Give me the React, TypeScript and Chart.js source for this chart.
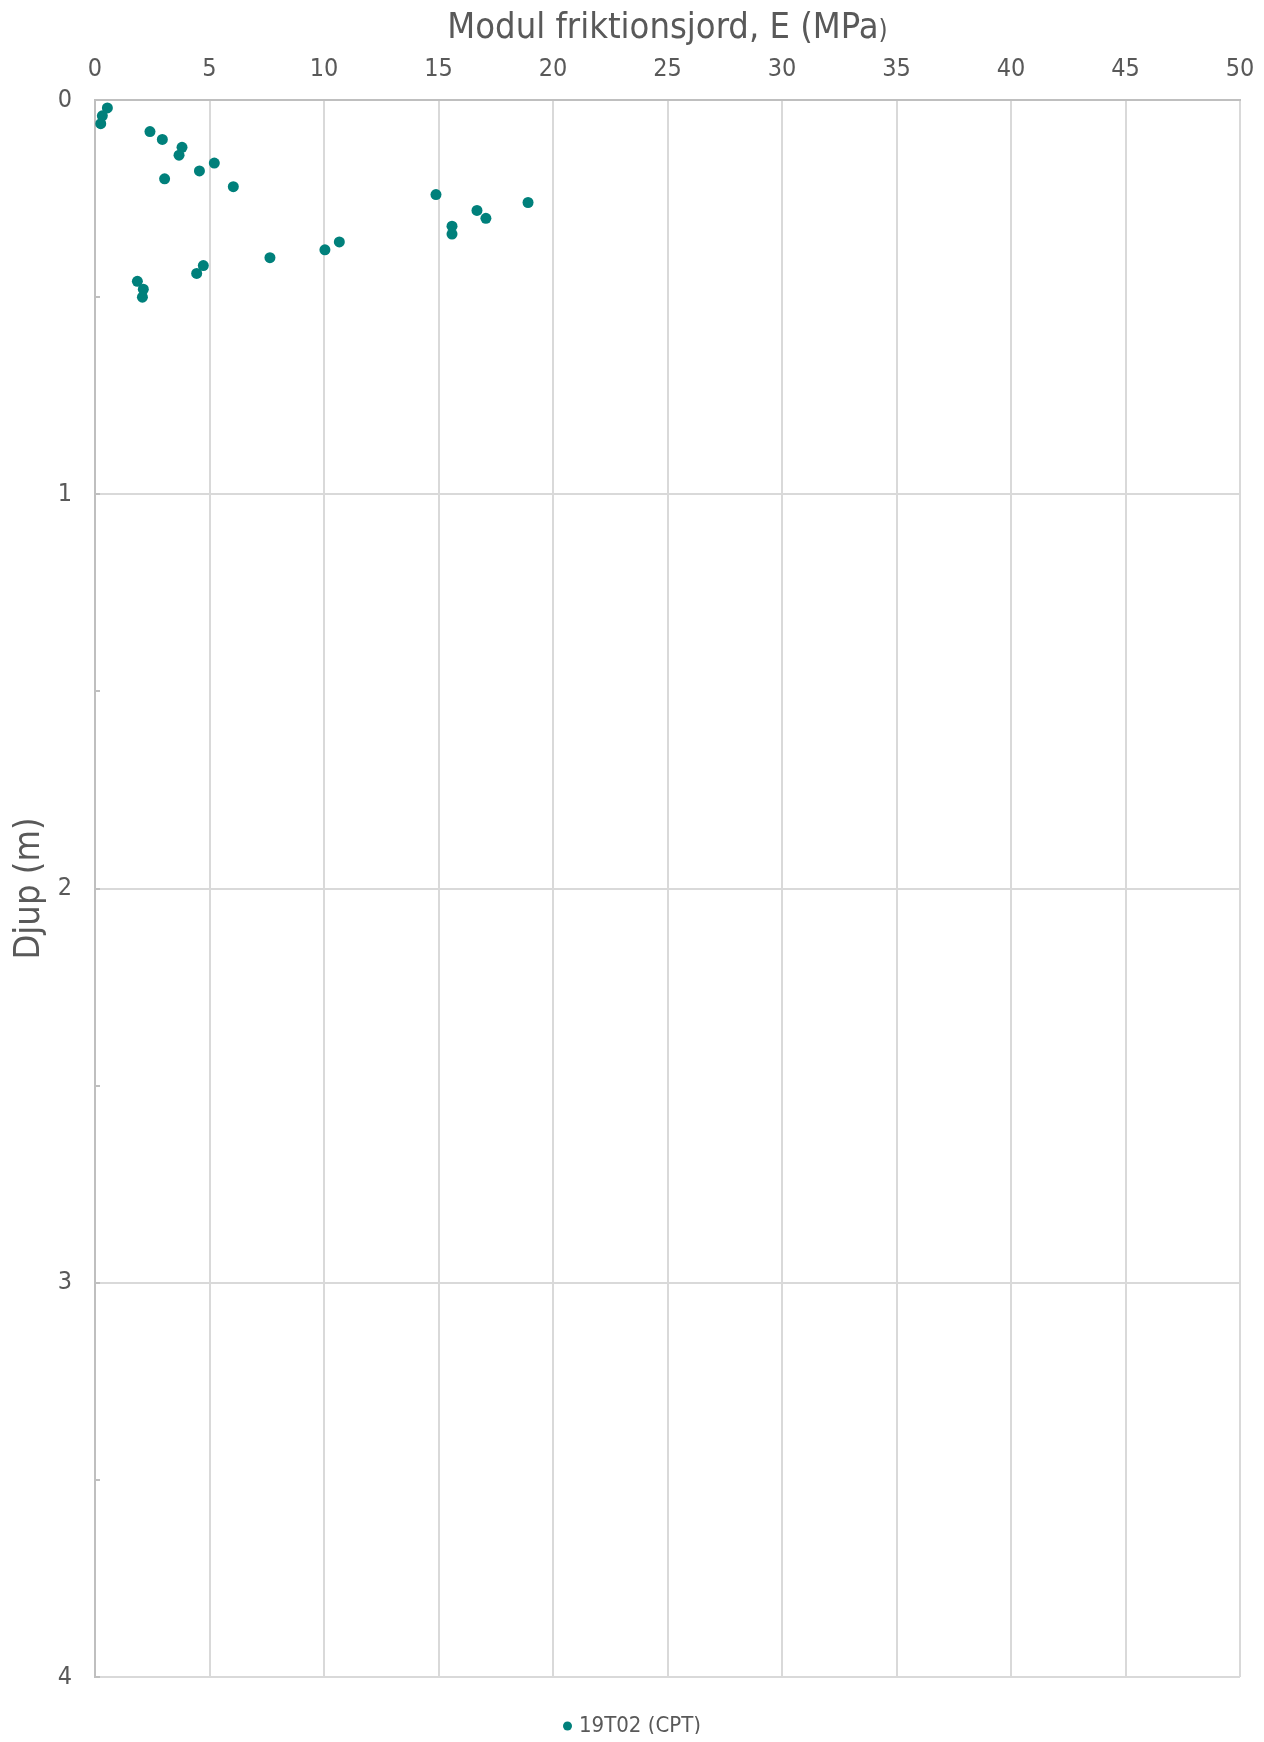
import { useEffect, useRef } from 'react';
import { Chart, registerables } from 'chart.js';

Chart.register(...registerables);

// Series: CPT sounding 19T02, modulus against depth
const seriesName = '19T02 (CPT)';
const depthM = [
  0.02, 0.04, 0.06, 0.08, 0.1, 0.12, 0.14, 0.16, 0.18, 0.2, 0.22,
  0.24, 0.26, 0.28, 0.3, 0.32, 0.34, 0.36, 0.38, 0.4, 0.42, 0.44,
  0.46, 0.48, 0.5,
];
const modulusMPa = [
  0.54, 0.32, 0.25, 2.4, 2.94, 3.8, 3.67, 5.21, 4.56, 3.04, 6.04,
  14.89, 18.91, 16.68, 17.07, 15.59, 15.59, 10.67, 10.04, 7.64, 4.73, 4.44,
  1.85, 2.11, 2.07,
];

// Axis ranges
const xRange = [0, 50];
const xStep = 5;
const yRange = [0, 4];
const yMajorStep = 1;
const yMinorStep = 0.5;

const titleMain = 'Modul friktionsjord, E (MPa';
const titleTail = ')';
const yTitle = 'Djup (m)';

const FONT = "'Liberation Sans Narrow', 'DejaVu Sans Condensed', 'Liberation Sans', sans-serif";
const TEXT = '#595959';
const GRID = '#d9d9d9';
const AXIS = '#bfbfbf';
const MARK = '#00807b';

const W = 1248;
const H = 1726;

const decorations = {
  id: 'decorations',
  afterDraw(chart: any) {
    const { ctx, chartArea, scales } = chart;
    ctx.save();

    // short inward tick marks along the depth axis
    ctx.strokeStyle = AXIS;
    ctx.lineWidth = 2;
    for (let v = yRange[0]; v <= yRange[1] + 1e-9; v += yMinorStep) {
      const y = Math.round(scales.y.getPixelForValue(v));
      ctx.beginPath();
      ctx.moveTo(chartArea.left, y);
      ctx.lineTo(chartArea.left + 5, y);
      ctx.stroke();
    }

    // top title, closing parenthesis set smaller
    const cx = (chartArea.left + chartArea.right) / 2;
    const mainFont = `36px ${FONT}`;
    const tailFont = `26px ${FONT}`;
    ctx.font = mainFont;
    const wMain = ctx.measureText(titleMain).width;
    ctx.font = tailFont;
    const wTail = ctx.measureText(titleTail).width;
    const start = cx - (wMain + wTail) / 2;
    const base = 30;
    ctx.fillStyle = TEXT;
    ctx.textAlign = 'left';
    ctx.textBaseline = 'alphabetic';
    ctx.font = mainFont;
    ctx.fillText(titleMain, start, base);
    ctx.font = tailFont;
    ctx.fillText(titleTail, start + wMain, base);

    // depth axis title
    ctx.save();
    ctx.translate(22, (chartArea.top + chartArea.bottom) / 2);
    ctx.rotate(-Math.PI / 2);
    ctx.font = mainFont;
    ctx.textAlign = 'center';
    ctx.textBaseline = 'middle';
    ctx.fillText(yTitle, 0, 0);
    ctx.restore();

    // legend
    const ds = chart.data.datasets[0];
    const legendFont = `22px ${FONT}`;
    ctx.font = legendFont;
    const tw = ctx.measureText(ds.label).width;
    const r = 4.5;
    const gap = 7;
    const total = 2 * r + gap + tw;
    const lx = W / 2 - total / 2;
    const ly = 1718;
    ctx.fillStyle = ds.backgroundColor;
    ctx.beginPath();
    ctx.arc(lx + r, ly, r, 0, Math.PI * 2);
    ctx.fill();
    ctx.fillStyle = TEXT;
    ctx.textAlign = 'left';
    ctx.textBaseline = 'middle';
    ctx.fillText(ds.label, lx + 2 * r + gap, ly);

    ctx.restore();
  },
};

export default function App() {
  const canvasRef = useRef<HTMLCanvasElement>(null);

  useEffect(() => {
    const canvas = canvasRef.current;
    if (!canvas) return;
    const points = depthM.map((d, i) => ({ x: modulusMPa[i], y: d }));
    const chart = new Chart(canvas, {
      type: 'scatter',
      data: {
        datasets: [
          {
            label: seriesName,
            data: points,
            backgroundColor: MARK,
            borderColor: MARK,
            pointRadius: 5.5,
            pointBorderWidth: 0,
          },
        ],
      },
      options: {
        responsive: false,
        animation: false,
        events: [],
        layout: { padding: { left: 0, top: 0, right: 16, bottom: 57 } },
        plugins: {
          legend: { display: false },
          title: { display: false },
          tooltip: { enabled: false },
        },
        scales: {
          x: {
            type: 'linear',
            position: 'top',
            min: xRange[0],
            max: xRange[1],
            afterFit: (s: any) => {
              s.height = 92;
              s.paddingLeft = 0;
              s.paddingRight = 0;
            },
            ticks: {
              stepSize: xStep,
              color: TEXT,
              font: { family: FONT, size: 25 },
              padding: 16,
              maxRotation: 0,
              autoSkip: false,
            },
            grid: { color: GRID, lineWidth: 2, drawTicks: false },
            border: { color: AXIS, width: 2 },
          },
          y: {
            type: 'linear',
            reverse: true,
            min: yRange[0],
            max: yRange[1],
            afterFit: (s: any) => {
              s.width = 87;
              s.paddingTop = 0;
              s.paddingBottom = 0;
            },
            ticks: {
              stepSize: yMinorStep,
              autoSkip: false,
              color: TEXT,
              font: { family: FONT, size: 25 },
              padding: 23,
              callback: (v: any) => (Number(v) % yMajorStep === 0 ? String(v) : ''),
            },
            grid: {
              color: (c: any) => (c.tick && c.tick.value % yMajorStep === 0 ? GRID : 'rgba(0,0,0,0)'),
              lineWidth: 2,
              drawTicks: false,
            },
            border: { color: AXIS, width: 2 },
          },
        },
      },
      plugins: [decorations],
    } as any);
    return () => chart.destroy();
  }, []);

  return (
    <div style={{ width: W, height: H }}>
      <canvas ref={canvasRef} width={W} height={H} style={{ display: 'block' }} />
    </div>
  );
}
